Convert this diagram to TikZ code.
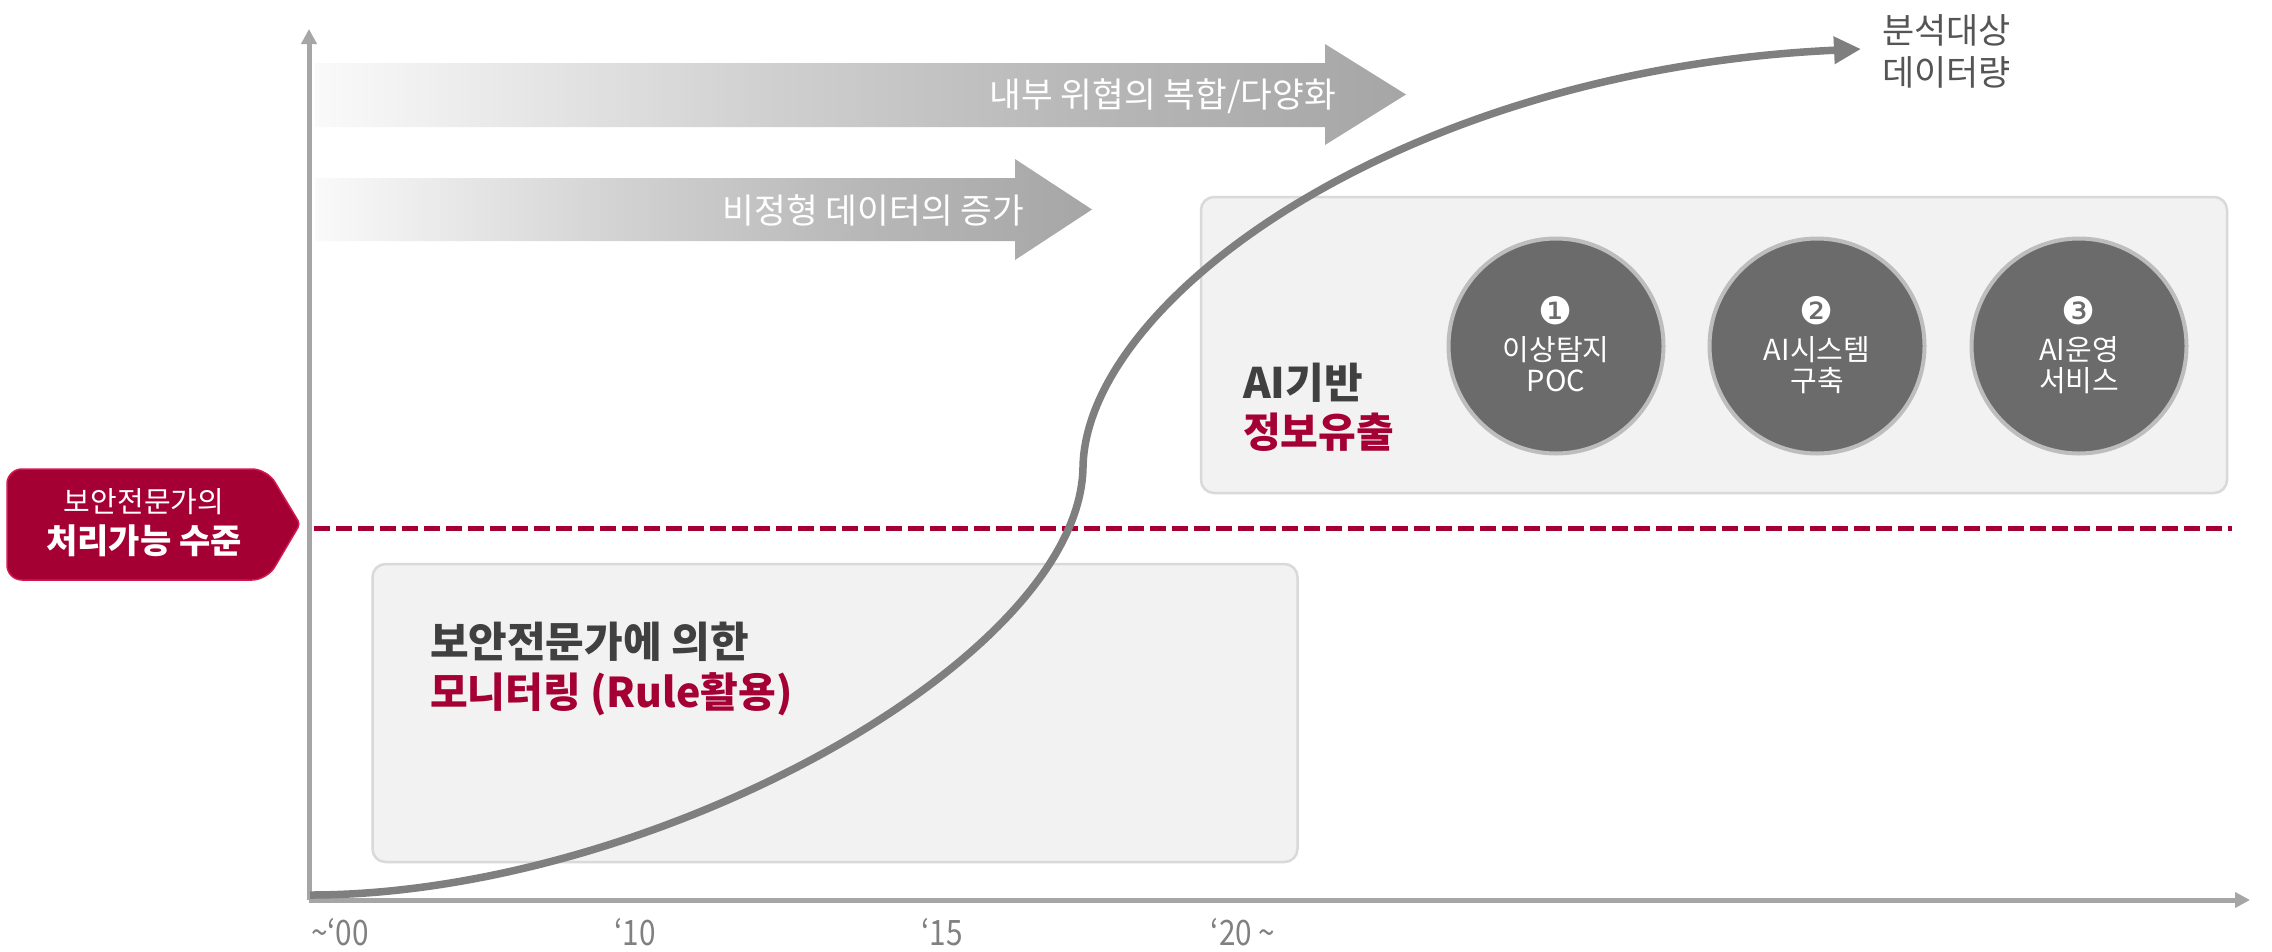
\documentclass[tikz,border=0pt]{standalone}
\usepackage{fontspec}
\setmainfont{Noto Sans CJK KR}
\newfontfamily\dejavu{DejaVu Sans}
\newfontfamily\narrowfont{Noto Sans CJK KR}[FakeStretch=0.85]
\usetikzlibrary{arrows.meta}
\definecolor{lgred}{HTML}{A50034}
\definecolor{tagline}{HTML}{D3174F}
\definecolor{boxfill}{HTML}{F2F2F2}
\definecolor{boxline}{HTML}{D9D9D9}
\definecolor{discfill}{HTML}{6B6B6B}
\definecolor{discline}{HTML}{BDBDBD}
\definecolor{axisgray}{HTML}{A6A6A6}
\definecolor{curvegray}{HTML}{7F7F7F}
\definecolor{darktext}{HTML}{404040}
\definecolor{titletext}{HTML}{555555}
\definecolor{yeartext}{HTML}{808080}
\pgfdeclarehorizontalshading{grayfade}{100bp}{rgb(0bp)=(0.98,0.98,0.98); rgb(25bp)=(0.98,0.98,0.98); rgb(45bp)=(0.82,0.82,0.82); rgb(60bp)=(0.72,0.72,0.72); rgb(75bp)=(0.65,0.65,0.65); rgb(100bp)=(0.65,0.65,0.65)}
\newcommand\fsz[1]{\fontsize{#1}{#1}\selectfont}
\begin{document}
\begin{tikzpicture}[x=1pt,y=-1pt,
  box/.style={draw=boxline, fill=boxfill, line width=2.5pt, rounded corners=13pt, inner sep=0},
  disc/.style={circle, draw=discline, fill=discfill, line width=4pt, minimum size=215pt, inner sep=0},
  lbl/.style={inner sep=0, outer sep=0},
  axisline/.style={draw=axisgray, line width=5pt, -{Triangle[length=15pt,width=15pt]}},
  curveline/.style={draw=curvegray, line width=7.5pt, -{Triangle[length=27pt,width=26pt]}},
  limit/.style={draw=lgred, line width=5pt, dash pattern=on 16pt off 6pt},
  fade/.style={shading=grayfade},
  whitetxt/.style={lbl, text=white},
  year/.style={lbl, text=yeartext, font=\narrowfont\fsz{35}}
]
\useasboundingbox (0,0) rectangle (2272,951);
\fill[white] (0,0) rectangle (2272,951);

% boxes
\node[box, minimum width=1026pt, minimum height=296pt] (aibox) at (1714,345) {};
\node[box, minimum width=925pt, minimum height=298pt] (monbox) at (835,713) {};

% gradient arrows
\shade[fade] (315,63) -- (1325,63) -- (1325,44) -- (1406,94.5) -- (1325,145) -- (1325,127) -- (315,127) -- cycle;
\shade[fade] (315,178) -- (1015,178) -- (1015,159) -- (1092,209.5) -- (1015,260) -- (1015,241) -- (315,241) -- cycle;
\node[whitetxt, anchor=east, font=\fsz{34.5}] (trend1) at (1336,96) {내부 위협의 복합/다양화};
\node[whitetxt, anchor=east, font=\fsz{34.5}] (trend2) at (1024,210) {비정형 데이터의 증가};

% circles
\node[disc] (c1) at (1556,346) {};
\node[disc] (c2) at (1817,346) {};
\node[disc] (c3) at (2079,346) {};
\foreach \n/\x/\a/\b in {1/1556/이상탐지/POC, 2/1817/AI시스템/구축, 3/2079/AI운영/서비스}{
  \node[whitetxt, font=\dejavu\fsz{38}] (n\n) at (\x,311) {\ifcase\n\or ❶\or ❷\or ❸\fi};
  \node[whitetxt, font=\fsz{29}] (a\n) at (\x,350) {\a};
  \node[whitetxt, font=\fsz{29}] (b\n) at (\x,381) {\b};
}

% box texts
\node[lbl, anchor=west, text=darktext, font=\bfseries\fsz{42}] (ai1) at (1243,382.5) {AI기반};
\node[lbl, anchor=west, text=lgred, font=\bfseries\fsz{41}] (ai2) at (1243,432.5) {정보유출};
\node[lbl, anchor=west, text=darktext, font=\bfseries\fsz{42}] (mon1) at (430,642) {보안전문가에 의한};
\node[lbl, anchor=west, text=lgred, font=\bfseries\fsz{41}] (mon2) at (430,694) {모니터링 (Rule활용)};

% limit line
\coordinate (dl) at (314,528);
\coordinate (dr) at (2232,528);
\draw[limit] (dl) -- (dr);

% axes
\coordinate (o) at (309,900);
\coordinate (ytop) at (309,29);
\coordinate (xend) at (2250,900);
\draw[axisline] (o) -- (ytop);
\draw[axisline] (o) -- (xend);

% S curve
\coordinate (cs) at (310,895);
\coordinate (cm) at (1083,467);
\coordinate (ce) at (1861,49);
\draw[curveline] (cs) .. controls (650,895) and (1080,660) .. (cm) .. controls (1086,300) and (1400,70) .. (ce);

% title of curve
\node[lbl, anchor=west, text=titletext, font=\fsz{35}] (ttl1) at (1882,30) {분석대상};
\node[lbl, anchor=west, text=titletext, font=\fsz{35}] (ttl2) at (1882,72.5) {데이터량};

% year labels
\node[year] (y00) at (340,932) {\textasciitilde‘00};
\node[year] (y10) at (635,932) {‘10};
\node[year] (y15) at (942,932) {‘15};
\node[year] (y20) at (1243,932) {‘20 \textasciitilde};

% red tag
\draw[fill=lgred, draw=tagline, line width=1.5pt, rounded corners=15pt] (7,524) -- (7,469) -- (267,469) {[rounded corners=4pt] -- (300,524)} -- (267,580) -- (7,580) -- cycle;
\node[whitetxt, font=\fsz{29}] (tag1) at (144,501.5) {보안전문가의};
\node[whitetxt, font=\bfseries\fsz{34}] (tag2) at (144,541) {처리가능 수준};
\end{tikzpicture}
\end{document}
